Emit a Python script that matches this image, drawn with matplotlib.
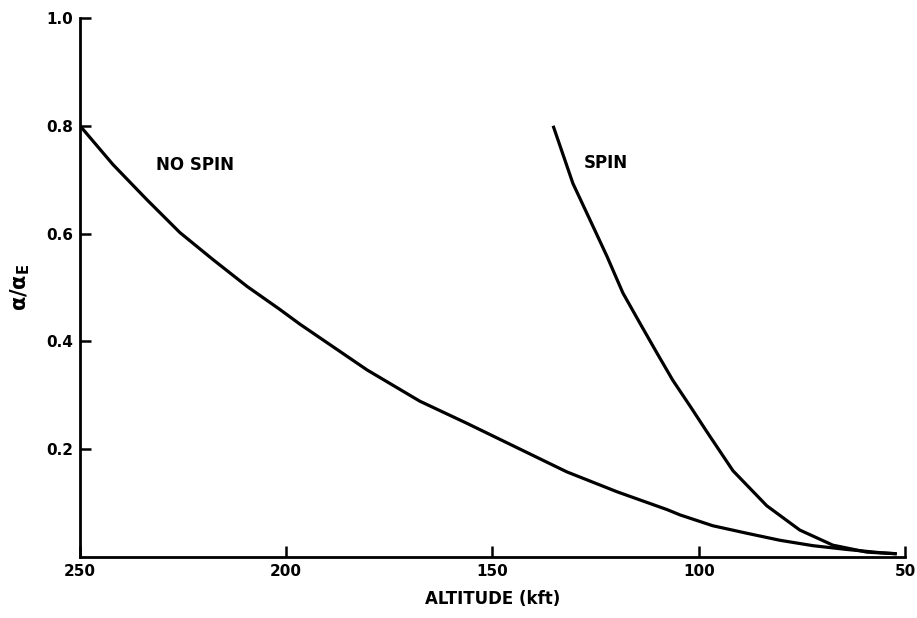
import matplotlib.pyplot as plt

# altitude (kft) vs alpha/alpha_E
alt_no_spin = [250, 242, 233.8, 225.8, 217.8, 209.5, 201.5, 196.7, 180.4, 167.6,
               156.2, 144.1, 132, 119.8, 107.7, 104.5, 96.6, 88.3, 80.3, 72.3,
               64.1, 56, 52]
a_no_spin = [0.80, 0.728, 0.663, 0.602, 0.552, 0.502, 0.459, 0.432, 0.347, 0.289,
             0.248, 0.203, 0.158, 0.121, 0.088, 0.078, 0.058, 0.044, 0.031, 0.021,
             0.014, 0.008, 0.006]

alt_spin = [135.3, 130.5, 126.4, 122.2, 118.4, 114.2, 110.1, 106.3, 102.1, 98.0,
            91.7, 83.5, 75.5, 67.5, 59.2, 52]
a_spin = [0.80, 0.693, 0.626, 0.557, 0.490, 0.433, 0.378, 0.328, 0.280, 0.232,
          0.160, 0.095, 0.050, 0.022, 0.009, 0.006]

x_ticks = [250, 200, 150, 100, 50]
y_ticks = [0.2, 0.4, 0.6, 0.8, 1.0]
y_tick_labels = ["0.2", "0.4", "0.6", "0.8", "1.0"]

fig = plt.figure(figsize=(9.17, 6.18), dpi=100)
ax = fig.add_axes([0.0872, 0.0987, 0.8997, 0.8723])

ax.plot(alt_no_spin, a_no_spin, color="black", lw=2.3, solid_capstyle="butt")
ax.plot(alt_spin, a_spin, color="black", lw=2.3, solid_capstyle="butt")

ax.text(222, 0.728, "NO SPIN", fontsize=12, fontweight="bold", ha="center", va="center")
ax.text(122.5, 0.73, "SPIN", fontsize=12, fontweight="bold", ha="center", va="center")

ax.set_xlim(250, 50)
ax.set_ylim(0, 1.0)
ax.set_xticks(x_ticks)
ax.set_xticklabels([str(t) for t in x_ticks])
ax.set_yticks(y_ticks)
ax.set_yticklabels(y_tick_labels)

for side in ["top", "right"]:
    ax.spines[side].set_visible(False)
for side in ["left", "bottom"]:
    ax.spines[side].set_linewidth(2.0)

ax.tick_params(direction="in", length=8, width=1.8, labelsize=11, pad=5)
for lbl in ax.get_xticklabels() + ax.get_yticklabels():
    lbl.set_fontweight("bold")

ax.set_xlabel("ALTITUDE (kft)", fontsize=12, fontweight="bold", labelpad=8)
ax.set_ylabel(r"$\mathbf{\alpha/\alpha_E}$", fontsize=15, labelpad=10)

fig.savefig("out.png", dpi=100)
